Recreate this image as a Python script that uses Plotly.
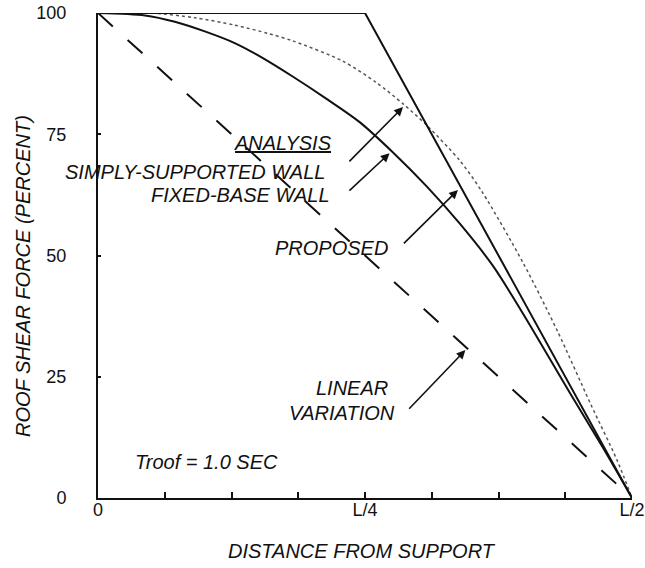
import plotly.graph_objects as go

# ---- data (x as fraction of span L, y as percent of roof shear) ----
dist_linear = [0.0, 0.5]
shear_linear = [100, 0]

dist_proposed = [0.0, 0.25, 0.5]
shear_proposed = [100, 100, 0]

dist_fixed = [0.0, 0.044, 0.072, 0.100, 0.128, 0.152, 0.183, 0.214, 0.245, 0.276, 0.308, 0.339, 0.370, 0.398, 0.445, 0.473, 0.5]
shear_fixed = [100, 99.5, 98.2, 96.2, 93.8, 91.0, 86.8, 82.3, 77.5, 71.3, 64.2, 56.5, 47.8, 38.0, 20.5, 10.3, 0]

dist_simple = [0.0, 0.05, 0.091, 0.128, 0.159, 0.183, 0.229, 0.261, 0.286, 0.308, 0.339, 0.360, 0.398, 0.430, 0.461, 0.486, 0.5]
shear_simple = [100, 100, 99.0, 97.5, 95.8, 94.2, 90.1, 85.6, 81.2, 76.8, 69.5, 63.0, 48.5, 34.5, 19.5, 7.8, 0]

x_tickvals = [0, 0.0625, 0.125, 0.1875, 0.25, 0.3125, 0.375, 0.4375, 0.5]
x_ticktext = ["0", "", "", "", "L/4", "", "", "", "L/2"]
y_tickvals = [0, 25, 50, 75, 100]

FONT = "Liberation Sans, Arial, sans-serif"

fig = go.Figure()
fig.add_trace(go.Scatter(x=dist_linear, y=shear_linear, mode="lines",
                         line=dict(color="#111", width=2, dash="20px,20px"),
                         cliponaxis=False, name="Linear variation"))
fig.add_trace(go.Scatter(x=dist_simple, y=shear_simple, mode="lines",
                         line=dict(color="#555", width=1.5, dash="dot", shape="spline", smoothing=0.8),
                         cliponaxis=False, name="Simply-supported wall"))
fig.add_trace(go.Scatter(x=dist_fixed, y=shear_fixed, mode="lines",
                         line=dict(color="#111", width=2, shape="spline", smoothing=0.8),
                         cliponaxis=False, name="Fixed-base wall"))
fig.add_trace(go.Scatter(x=dist_proposed, y=shear_proposed, mode="lines",
                         line=dict(color="#111", width=2),
                         cliponaxis=False, name="Proposed"))

txt = dict(family=FONT, size=20, color="#111")
ann = []

def label(text, x, y, anchor="right"):
    ann.append(dict(x=x, y=y, xref="x", yref="y", text="<i>" + text + "</i>",
                    showarrow=False, xanchor=anchor, yanchor="middle", font=txt))

def arrow(x, y, ax, ay):
    ann.append(dict(x=x, y=y, ax=ax, ay=ay, xref="x", yref="y", axref="x", ayref="y",
                    text="", showarrow=True, arrowhead=2, arrowsize=1.1, arrowwidth=1.6,
                    arrowcolor="#111"))

label("<span style='text-decoration:underline'>ANALYSIS</span>", 0.221, 73.2)
label("SIMPLY-SUPPORTED WALL", 0.2144, 67.2)
label("FIXED-BASE WALL", 0.219, 62.5)
label("PROPOSED", 0.273, 51.5)
label("LINEAR", 0.273, 22.7)
label("VARIATION", 0.280, 17.5)
label("Troof = 1.0 SEC", 0.0328, 7.4, anchor="left")

arrow(0.2856, 80.6, 0.234, 69.1)
arrow(0.273, 71.1, 0.234, 63.1)
arrow(0.337, 63.5, 0.285, 52.2)
arrow(0.344, 30.5, 0.290, 18.1)

# axis titles placed as annotations relative to the plot area
ann.append(dict(xref="paper", yref="paper", x=-0.1404, y=0.4577, showarrow=False,
                text="<i>ROOF SHEAR FORCE (PERCENT)</i>", textangle=-90,
                xanchor="center", yanchor="middle", font=txt))
ann.append(dict(xref="paper", yref="paper", x=0.494, y=-0.1093, showarrow=False,
                text="<i>DISTANCE FROM SUPPORT</i>",
                xanchor="center", yanchor="middle", font=txt))

fig.update_layout(
    width=645, height=568,
    margin=dict(l=98, r=13, t=13, b=70),
    paper_bgcolor="white", plot_bgcolor="white",
    showlegend=False,
    font=dict(family=FONT, size=18, color="#111"),
    annotations=ann,
    xaxis=dict(range=[0, 0.5], tickvals=x_tickvals, ticktext=x_ticktext,
               ticks="inside", ticklen=6, tickwidth=1.5, tickcolor="#111",
               showline=True, linewidth=2, linecolor="#111", automargin=False,
               showgrid=False, zeroline=False, tickfont=dict(size=18),
               ticklabelstandoff=-6, ticklabeloverflow="allow"),
    yaxis=dict(range=[0, 100], tickvals=y_tickvals,
               ticks="inside", ticklen=3, tickwidth=1.5, tickcolor="#111",
               showline=True, linewidth=2, linecolor="#111", automargin=False,
               showgrid=False, zeroline=False, tickfont=dict(size=18),
               ticklabelstandoff=26, ticklabeloverflow="allow"),
)

# remove the default page margin so the figure sits at the window's top-left corner
fig.write_html("out.html", config={"displayModeBar": False},
               post_script="document.body.style.margin='0';document.body.style.overflow='hidden';")
